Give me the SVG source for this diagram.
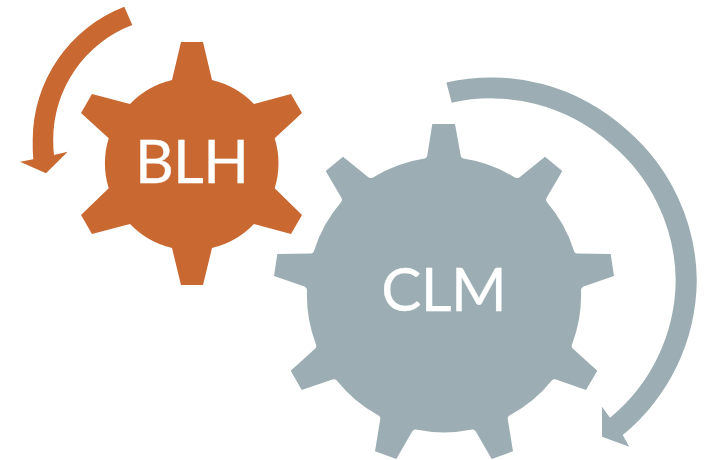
<svg xmlns="http://www.w3.org/2000/svg" width="713" height="460" viewBox="0 0 713 460">
<style>
.o{fill:#C96931}
.g{fill:#9CAEB4}
text{fill:#fff;stroke:#fff;stroke-width:0.3px;font-family:"Lato","Open Sans",sans-serif;font-size:60px;text-anchor:middle;letter-spacing:-0.6px}
</style>
<rect width="713" height="460" fill="#fff"/>
<g id="connectors">
<path class="o" d="M124.3 6.7L132.3 25A122.5 122.5 0 0 0 53.2 140Q53.2 148 54 155L67.7 151.7L46 173.3L20 161.7L33.3 159.3Q32.5 150 32.7 140A143 143 0 0 1 124.3 6.7Z"/>
<path class="g" d="M446.4 82.4A202 202 0 0 1 627 130A202 202 0 0 1 696.8 280A202 202 0 0 1 622.7 435L629.3 446.7L602 436.7L602 406.7L610 417.7A180 180 0 0 0 675.7 280A180 180 0 0 0 610 143.3A180 180 0 0 0 451.7 102.7Z"/>
</g>
<g id="node-blh">
<path class="o" d="M181 42L203 42L212 80A86 86 0 0 1 254 104L291 94L302 113L274.7 138.3A86 86 0 0 1 274.7 188.3L302 215L291 234L254 224A86 86 0 0 1 212 248L203 285L181 285L172 248A86 86 0 0 1 130 224L92 234L81 215L108.7 188.3A86 86 0 0 1 108.7 138.3L81 113L92 94L130 104A86 86 0 0 1 172 80Z"/>
<text x="191.7" y="182.5">BLH</text>
</g>
<g id="node-clm">
<path class="g" d="M432.3 124L455 124L460.8 156Q461.2 158.2 463.4 158.6A137 137 0 0 1 515 177.6Q517.5 178.8 519.6 177.2L545 156.7L562.3 171L546.5 198Q545.3 200.3 547 202.3A137 137 0 0 1 574 251Q574.8 253.5 577 253.5L610.7 254L614 276L583.5 286.5Q581 287.5 581 290A137 137 0 0 1 572 344.5Q571 347 573 348.8L597.3 370.7L586 390L556 379.5Q553.5 378.7 551.8 380.5A137 137 0 0 1 509.5 415.5Q507.3 416.7 507.7 419L513 451.3L491.7 459L475.5 431Q474.2 429 472 429.5A137 137 0 0 1 416 429.5Q413.8 429 412.5 431L396.3 459L375 451.3L380.3 419Q380.7 416.7 378.5 415.5A137 137 0 0 1 336.8 380.5Q335 378.7 332.5 379.5L301.7 390L290.7 370.7L315 348.8Q317 347 316 344.5A137 137 0 0 1 307 290Q307 287.5 304.5 286.5L274 276L277.3 254L311 253.5Q313.2 253.5 314 251A137 137 0 0 1 341 202.3Q342.7 200.3 341.5 198L325.7 171L343 156.7L368.4 177.2Q370.5 178.8 373 177.6A137 137 0 0 1 424.6 158.6Q426.8 158.2 427.2 156Z"/>
<text x="443.7" y="311">CLM</text>
</g>
</svg>
